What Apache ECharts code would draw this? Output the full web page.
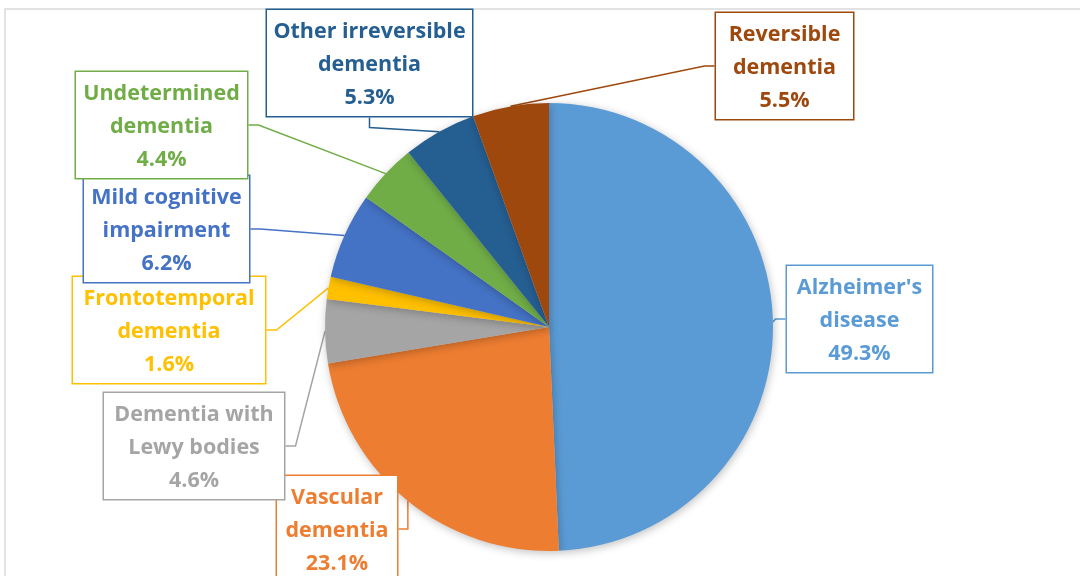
<!DOCTYPE html>
<html><head><meta charset="utf-8">
<script src="https://cdn.jsdelivr.net/npm/echarts@6/dist/echarts.min.js"></script>
<style>html,body{margin:0;padding:0;background:#fff}#c{width:1080px;height:576px}</style>
</head><body><div id="c"></div>
<script>
const categories = ["Alzheimer's\ndisease", "Vascular\ndementia", "Dementia with\nLewy bodies", "Frontotemporal\ndementia", "Mild cognitive\nimpairment", "Undetermined\ndementia", "Other irreversible\ndementia", "Reversible\ndementia"];
const values = [49.3, 23.1, 4.6, 1.6, 6.2, 4.4, 5.3, 5.5];
const colors = ['#5B9BD5', '#ED7D31', '#A5A5A5', '#FFC000', '#4472C4', '#70AD47', '#255E91', '#9E480E'];
// label box top-left corners and widths (layout)
const labelPos = [[786, 266], [276, 476], [103, 393], [72, 277], [83, 176], [75, 72], [266, 10], [715, 13]];
const labelW = [147, 122, 182, 194, 167, 173, 207, 139];

const chart = echarts.init(document.getElementById('c'));
chart.setOption({
  animation: false,
  graphic: [{type: 'rect', shape: {x: 5, y: 9, width: 1200, height: 700}, style: {fill: 'none', stroke: '#D9D9D9', lineWidth: 1.5}, z: -1}],
  series: [{
    type: 'pie',
    center: [549, 327],
    radius: 224,
    startAngle: 90,
    clockwise: true,
    data: categories.map((c, i) => ({
      name: c, value: values[i],
      itemStyle: {color: colors[i]},
      label: {color: colors[i], borderColor: colors[i], width: labelW[i] - 2},
      labelLine: {lineStyle: {color: colors[i]}}
    })),
    itemStyle: {shadowBlur: 8, shadowColor: 'rgba(0,0,0,0.25)', shadowOffsetX: 1, shadowOffsetY: 2},
    label: {
      show: true,
      formatter: p => p.name + '\n' + p.value.toFixed(1) + '%',
      fontFamily: 'Open Sans', fontWeight: 'bold', fontSize: 21.5, lineHeight: 33,
      align: 'center',
      backgroundColor: '#fff', borderWidth: 1.5, padding: [5, 0, 2, 0]
    },
    labelLine: {show: true, length: 10, length2: 10, lineStyle: {width: 1.5}},
    labelLayout: p => ({x: labelPos[p.dataIndex][0] + labelW[p.dataIndex] / 2, y: labelPos[p.dataIndex][1], align: 'center', verticalAlign: 'top'})
  }]
});
</script></body></html>
